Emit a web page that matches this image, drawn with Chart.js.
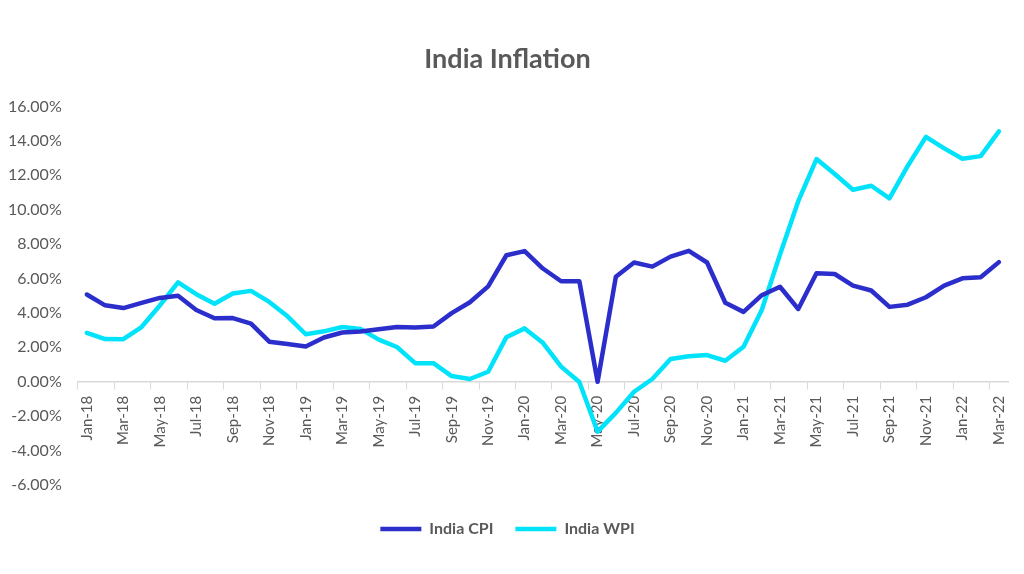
<!DOCTYPE html>
<html>
<head>
<meta charset="utf-8">
<script src="https://cdn.jsdelivr.net/npm/chart.js@4/dist/chart.umd.min.js"></script>
<style>
  html, body { margin: 0; padding: 0; background: #fff; }
  #wrap { width: 1024px; height: 574px; }
</style>
</head>
<body>
<div id="wrap"><canvas id="inflationChart"></canvas></div>
<script>
const months = [
  'Jan-18','Feb-18','Mar-18','Apr-18','May-18','Jun-18','Jul-18','Aug-18','Sep-18','Oct-18','Nov-18','Dec-18',
  'Jan-19','Feb-19','Mar-19','Apr-19','May-19','Jun-19','Jul-19','Aug-19','Sep-19','Oct-19','Nov-19','Dec-19',
  'Jan-20','Feb-20','Mar-20','Apr-20','May-20','Jun-20','Jul-20','Aug-20','Sep-20','Oct-20','Nov-20','Dec-20',
  'Jan-21','Feb-21','Mar-21','Apr-21','May-21','Jun-21','Jul-21','Aug-21','Sep-21','Oct-21','Nov-21','Dec-21',
  'Jan-22','Feb-22','Mar-22'
];

const indiaCPI = [
  5.07, 4.44, 4.28, 4.58, 4.87, 5.00, 4.17, 3.69, 3.70, 3.38, 2.33, 2.19,
  2.05, 2.57, 2.86, 2.92, 3.05, 3.18, 3.15, 3.21, 3.99, 4.62, 5.54, 7.35,
  7.59, 6.58, 5.84, 5.84, 0.00, 6.10, 6.93, 6.69, 7.27, 7.61, 6.93, 4.59,
  4.06, 5.03, 5.52, 4.23, 6.30, 6.26, 5.59, 5.30, 4.35, 4.48, 4.91, 5.59,
  6.01, 6.07, 6.95
];

const indiaWPI = [
  2.84, 2.48, 2.47, 3.18, 4.43, 5.77, 5.09, 4.53, 5.13, 5.28, 4.64, 3.80,
  2.76, 2.93, 3.18, 3.07, 2.45, 2.02, 1.08, 1.08, 0.33, 0.16, 0.58, 2.59,
  3.10, 2.26, 0.88, -0.01, -2.90, -1.81, -0.58, 0.16, 1.32, 1.48, 1.55, 1.22,
  2.03, 4.17, 7.39, 10.49, 12.94, 12.07, 11.16, 11.39, 10.66, 12.54, 14.23, 13.56,
  12.96, 13.11, 14.55
];

const yTicks = [-6, -4, -2, 0, 2, 4, 6, 8, 10, 12, 14, 16];

const textGrey = '#595959';
const axisGrey = '#d9d9d9';

document.addEventListener('DOMContentLoaded', () => {
  const ctx = document.querySelector('#inflationChart').getContext('2d');

  new Chart(ctx, {
    type: 'line',
    data: {
      labels: months,
      datasets: [
        {
          label: 'India CPI',
          data: indiaCPI,
          borderColor: '#2B2ECB',
          backgroundColor: '#2B2ECB',
          borderWidth: 4.5,
          pointRadius: 0,
          tension: 0,
          borderJoinStyle: 'round',
          borderCapStyle: 'round'
        },
        {
          label: 'India WPI',
          data: indiaWPI,
          borderColor: '#00E3FB',
          backgroundColor: '#00E3FB',
          borderWidth: 4.5,
          pointRadius: 0,
          tension: 0,
          borderJoinStyle: 'round',
          borderCapStyle: 'round'
        }
      ]
    },
    options: {
      responsive: true,
      maintainAspectRatio: false,
      animation: false,
      layout: {
        padding: { left: 0, right: 9, top: 43, bottom: 27 }
      },
      plugins: {
        title: {
          display: true,
          text: 'India Inflation',
          color: textGrey,
          font: { family: 'Lato', size: 27, weight: 'bold' },
          padding: { top: 0, bottom: 31 }
        },
        legend: {
          position: 'bottom',
          // blank title just to push the legend row further below the plot
          title: { display: true, text: ' ', font: { size: 10 }, padding: { top: 2, bottom: 0 } },
          labels: {
            color: textGrey,
            font: { family: 'Lato', size: 16, weight: 'bold' },
            usePointStyle: true,
            pointStyle: 'line',
            pointStyleWidth: 41,
            padding: 22
          }
        },
        tooltip: { enabled: false }
      },
      scales: {
        x: {
          position: { y: 0 },
          offset: true,
          border: { color: axisGrey, width: 1.5 },
          grid: {
            offset: true,
            drawOnChartArea: false,
            drawTicks: true,
            tickLength: 7,
            color: c => (c.index % 2 === 0 ? axisGrey : 'rgba(0,0,0,0)')
          },
          ticks: {
            autoSkip: false,
            maxRotation: 90,
            minRotation: 90,
            padding: 7,
            color: textGrey,
            font: { family: 'Lato', size: 15 },
            callback: (v, i) => (i % 2 === 0 ? months[i] : '')
          }
        },
        y: {
          min: yTicks[0],
          max: yTicks[yTicks.length - 1],
          border: { display: false },
          grid: { display: false },
          afterBuildTicks: axis => {
            axis.ticks = yTicks.map(v => ({ value: v }));
          },
          ticks: {
            color: textGrey,
            font: { family: 'Lato', size: 16 },
            padding: 8,
            callback: v => v.toFixed(2) + '%'
          }
        }
      }
    }
  });
});
</script>
</body>
</html>
